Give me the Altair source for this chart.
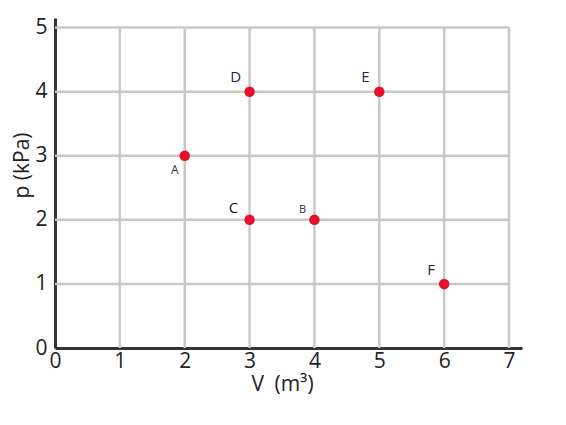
import altair as alt
import pandas as pd

labels = ["A", "B", "C", "D", "E", "F"]
volume = [2, 4, 3, 3, 5, 6]
pressure = [3, 2, 2, 4, 4, 1]
x_ticks = [0, 1, 2, 3, 4, 5, 6, 7]
y_ticks = [0, 1, 2, 3, 4, 5]

df = pd.DataFrame({"label": labels, "V": volume, "p": pressure})

# label offsets (style)
offsets = {"A": (-10, 14, 12), "B": (-12, -10, 11), "C": (-16, -12, 15),
           "D": (-14, -15, 15), "E": (-14, -15, 15), "F": (-13, -14, 15)}

xs = alt.Scale(domain=[0, 7.2], nice=False, zero=False)
ys = alt.Scale(domain=[0, 5.15], nice=False, zero=False)

axis_common = dict(
    grid=False, ticks=False, domainColor="#333333", domainWidth=3,
    labelFont="Open Sans", labelFontSize=21, labelColor="#222222",
    labelFlush=False,
    titleFont="Open Sans", titleFontSize=21, titleFontWeight="normal",
    titleColor="#222222",
)
x_axis = alt.Axis(values=x_ticks, labelPadding=2, titleX=227, titleY=36,
                  titleBaseline="middle", **axis_common)
y_axis = alt.Axis(values=y_ticks, labelPadding=8, titleX=-33, titleY=147,
                  titleBaseline="middle", labelBaseline="middle", **axis_common)
XT = "V\u2002(m³)"
YT = "p (kPa)"

vgrid = pd.DataFrame({"V": x_ticks[1:], "p": 0, "p2": max(y_ticks)})
hgrid = pd.DataFrame({"p": y_ticks[1:], "V": 0, "V2": max(x_ticks)})

grid_v = alt.Chart(vgrid).mark_rule(color="#c8c8c8", strokeWidth=2.5).encode(
    x=alt.X("V:Q", scale=xs, axis=x_axis, title=XT),
    y=alt.Y("p:Q", scale=ys, axis=y_axis, title=YT),
    y2="p2:Q",
)
grid_h = alt.Chart(hgrid).mark_rule(color="#c8c8c8", strokeWidth=2.5).encode(
    y=alt.Y("p:Q", scale=ys, axis=y_axis, title=YT),
    x=alt.X("V:Q", scale=xs, axis=x_axis, title=XT),
    x2="V2:Q",
)

points = alt.Chart(df).mark_circle(size=110, color="#e5102a", opacity=1).encode(
    x=alt.X("V:Q", scale=xs, axis=x_axis, title=XT),
    y=alt.Y("p:Q", scale=ys, axis=y_axis, title=YT),
)

texts = []
for lab in labels:
    dx, dy, fs = offsets[lab]
    color = "#111111" if lab == "C" else "#1b2a4e"
    t = alt.Chart(df).transform_filter(alt.datum.label == lab).mark_text(
        dx=dx, dy=dy, fontSize=fs, font="Open Sans", color=color
    ).encode(
        x=alt.X("V:Q", scale=xs, axis=x_axis, title=XT),
        y=alt.Y("p:Q", scale=ys, axis=y_axis, title=YT),
        text="label:N",
    )
    texts.append(t)

chart = alt.layer(grid_v, grid_h, points, *texts).properties(
    width=467, height=330,
    autosize=alt.AutoSizeParams(type="none"),
    padding={"left": 47, "top": 10, "right": 20, "bottom": 60},
).configure_view(stroke=None)

chart.save("out.html", embed_options={"renderer": "svg", "actions": False})
